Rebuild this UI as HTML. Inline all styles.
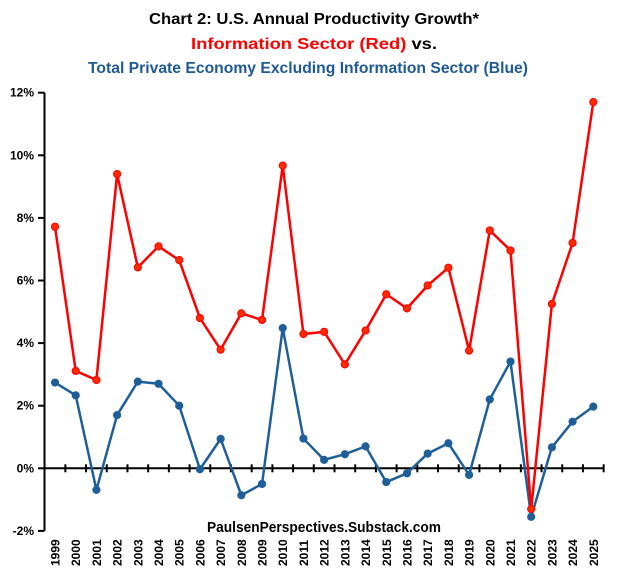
<!DOCTYPE html>
<html><head><meta charset="utf-8"><style>
html,body{margin:0;padding:0;background:#fff;}
svg{display:block;font-family:"Liberation Sans",sans-serif;font-weight:bold;}
</style></head><body>
<svg id="chart" width="617" height="576" viewBox="0 0 617 576">
<text x="314" y="24" text-anchor="middle" font-size="16" fill="#000" textLength="330" lengthAdjust="spacingAndGlyphs">Chart 2: U.S. Annual Productivity Growth*</text>
<text x="314" y="49" text-anchor="middle" font-size="16" textLength="246" lengthAdjust="spacingAndGlyphs"><tspan fill="#ff0000">Information Sector (Red)</tspan><tspan fill="#000"> vs.</tspan></text>
<text x="308" y="73" text-anchor="middle" font-size="16" fill="#1f5a94" textLength="440" lengthAdjust="spacingAndGlyphs">Total Private Economy Excluding Information Sector (Blue)</text>
<g id="axes"></g>
<g id="series"></g>
<text x="324" y="532" text-anchor="middle" font-size="15" fill="#000" textLength="234" lengthAdjust="spacingAndGlyphs">PaulsenPerspectives.Substack.com</text>
</svg>
<script>
const years = [1999,2000,2001,2002,2003,2004,2005,2006,2007,2008,2009,2010,2011,2012,2013,2014,2015,2016,2017,2018,2019,2020,2021,2022,2023,2024,2025];
const infoSector = [7.72,3.11,2.82,9.40,6.42,7.09,6.65,4.80,3.79,4.95,4.74,9.67,4.29,4.36,3.32,4.40,5.56,5.11,5.84,6.41,3.76,7.60,6.96,-1.30,5.25,7.20,11.70];
const privateEcon = [2.74,2.33,-0.69,1.70,2.77,2.70,2.00,-0.03,0.94,-0.86,-0.50,4.48,0.95,0.27,0.45,0.70,-0.44,-0.16,0.47,0.80,-0.21,2.20,3.41,-1.55,0.67,1.49,1.97];
const yTicks = [-2,0,2,4,6,8,10,12];

const NS="http://www.w3.org/2000/svg";
const x0=55, dx=(593.3-55)/(years.length-1);
function xs(i){return x0+i*dx;}
function ys(v){return 468.3-v*31.3;}
function mk(tag,attrs,parent){const e=document.createElementNS(NS,tag);for(const k in attrs)e.setAttribute(k,attrs[k]);parent.appendChild(e);return e;}
const axes=document.getElementById('axes');
// y axis
const ya=mk('line',{x1:44.5,y1:ys(12),x2:44.5,y2:ys(-2),stroke:'#000','stroke-width':2},axes);


yTicks.forEach(t=>{
  const l=mk('line',{x1:38,y1:ys(t),x2:44.5,y2:ys(t),stroke:'#000','stroke-width':2},axes);
  
  
  const tx=mk('text',{x:34,y:ys(t)+4,'text-anchor':'end','font-size':12,fill:'#000'},axes);
  tx.textContent=t+'%';
  
  
});
// x axis at 0
const xa=mk('line',{x1:44.5,y1:ys(0),x2:604,y2:ys(0),stroke:'#000','stroke-width':2},axes);


for(let i=0;i<years.length;i++){
  const tx=xs(i)+dx/2;
  const l=mk('line',{x1:tx,y1:ys(0)-4,x2:tx,y2:ys(0)+4,stroke:'#000','stroke-width':2},axes);
  
  
  const t=mk('text',{x:0,y:0,'font-size':12,fill:'#000',transform:`translate(${xs(i)+4.5},566) rotate(-90)`},axes);
  t.textContent=years[i];
  
  
}
const series=document.getElementById('series');
function draw(vals,color,fill,name){
  const pts=vals.map((v,i)=>xs(i)+','+ys(v)).join(' ');
  const pl=mk('polyline',{points:pts,fill:'none',stroke:color,'stroke-width':2.5,'stroke-linejoin':'round'},series);
  
  
  vals.forEach((v,i)=>{
    const c=mk('circle',{cx:xs(i),cy:ys(v),r:3.6,fill:fill,stroke:color,'stroke-width':1},series);
    
    
  });
}
draw(privateEcon,'#1f5f99','#1f5f99','private-economy');
draw(infoSector,'#ff0000','#ff2a00','information-sector');
</script>
</body></html>
